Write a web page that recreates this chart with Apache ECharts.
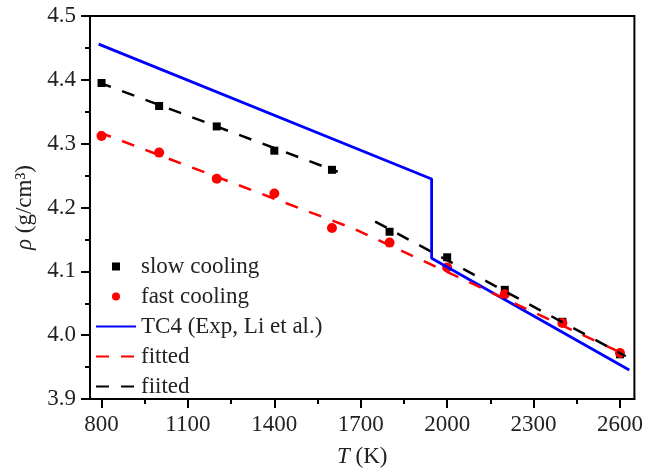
<!DOCTYPE html>
<html>
<head>
<meta charset="utf-8">
<script src="https://cdn.jsdelivr.net/npm/echarts@6/dist/echarts.min.js"></script>
<style>html,body{margin:0;padding:0;background:#fff}#c{width:646px;height:473px}</style>
</head>
<body>
<div id="c"></div>
<script>
// measured temperatures (K)
var temps = [800, 1000, 1200, 1400, 1600, 1800, 2000, 2200, 2400, 2600];
// densities (g/cm3)
var slowCooling = [4.395, 4.359, 4.327, 4.289, 4.259, 4.162, 4.122, 4.071, 4.021, 3.970];
var fastCooling = [4.312, 4.286, 4.245, 4.222, 4.168, 4.145, 4.106, 4.064, 4.019, 3.972];
// TC4 experimental line (Li et al.)
var tc4T = [790, 1946, 1946, 2632];
var tc4Rho = [4.456, 4.2446, 4.1204, 3.9454];
// fitted lines
var fitRedT = [790, 1680, 2620];
var fitRedRho = [4.318, 4.166, 3.969];
var fitBlackSolidT = [790, 1620];
var fitBlackSolidRho = [4.396, 4.256];
var fitBlackLiquidT = [1750, 2620];
var fitBlackLiquidRho = [4.178, 3.967];
// axis ticks
var xMajorTicks = [800, 1100, 1400, 1700, 2000, 2300, 2600];
var xMinorTicks = [950, 1250, 1550, 1850, 2150, 2450];

function pairs(xs, ys) { return xs.map(function (x, i) { return [x, ys[i]]; }); }

var FONT = '"Liberation Serif", "Times New Roman", serif';
var TXT = '#222';
var HIDE = {color: 'rgba(0,0,0,0)', borderWidth: 0, borderColor: 'rgba(0,0,0,0)'};
var chart = echarts.init(document.getElementById('c'), null, {renderer: 'canvas'});
chart.setOption({
  animation: false,
  backgroundColor: '#fff',
  grid: {left: 90, right: 9, top: 16, bottom: 74, show: true, borderColor: '#000', borderWidth: 2, backgroundColor: 'transparent'},
  legend: {
    orient: 'vertical', left: 90, top: 250,
    itemWidth: 40, itemHeight: 8, itemGap: 7,
    textStyle: {fontFamily: FONT, fontSize: 23, color: TXT},
    data: [
      {name: 'slow cooling', icon: 'path://M0 0H10V10H0Z'},
      {name: 'fast cooling', icon: 'circle'},
      {name: 'TC4 (Exp, Li et al.)', itemStyle: HIDE},
      {name: 'fitted', itemStyle: HIDE},
      {name: 'fiited', itemStyle: HIDE}
    ]
  },
  xAxis: [{
    type: 'value', min: 760, max: 2650,
    name: '{i|T} (K)', nameLocation: 'middle', nameGap: 46,
    nameTextStyle: {fontFamily: FONT, fontSize: 23, color: TXT, rich: {i: {fontFamily: FONT, fontSize: 23, fontStyle: 'italic', color: TXT}}},
    axisLine: {lineStyle: {color: '#000', width: 2}},
    axisTick: {show: true, length: 9, lineStyle: {color: '#000', width: 2}, customValues: xMajorTicks},
    axisLabel: {fontFamily: FONT, fontSize: 23, color: TXT, margin: 14, customValues: xMajorTicks, formatter: function (v) { return String(v); }},
    splitLine: {show: false}
  }, {
    type: 'value', min: 760, max: 2650, position: 'bottom',
    axisLine: {show: false},
    axisTick: {show: true, length: 5, lineStyle: {color: '#000', width: 2}, customValues: xMinorTicks},
    axisLabel: {show: false, customValues: xMinorTicks},
    splitLine: {show: false}
  }],
  yAxis: {
    type: 'value', min: 3.9, max: 4.5, interval: 0.1,
    name: '{i|ρ} (g/cm³)', nameLocation: 'middle', nameGap: 50,
    nameTextStyle: {fontFamily: FONT, fontSize: 23, color: TXT, rich: {i: {fontFamily: FONT, fontSize: 23, fontStyle: 'italic', color: TXT}}},
    axisLine: {show: true, lineStyle: {color: '#000', width: 2}},
    axisTick: {show: true, length: 9, lineStyle: {color: '#000', width: 2}},
    minorTick: {show: true, splitNumber: 2, length: 5, lineStyle: {color: '#000', width: 2}},
    axisLabel: {fontFamily: FONT, fontSize: 23, color: TXT, margin: 14, formatter: function (v) { return v.toFixed(1); }},
    splitLine: {show: false}
  },
  series: [
    {name: 'slow cooling', type: 'scatter', symbol: 'rect', symbolSize: 8, itemStyle: {color: '#000', opacity: 1}, data: pairs(temps, slowCooling), z: 3},
    {name: 'fast cooling', type: 'scatter', symbol: 'circle', symbolSize: 10, itemStyle: {color: '#ff0000', opacity: 1}, data: pairs(temps, fastCooling), z: 3},
    {name: 'TC4 (Exp, Li et al.)', type: 'line', symbol: 'none', lineStyle: {color: '#0000ff', width: 2.8}, itemStyle: {color: '#0000ff'}, data: pairs(tc4T, tc4Rho), z: 4},
    {name: 'fitted', type: 'line', symbol: 'none', lineStyle: {color: '#ff0000', width: 2.5, type: [13, 12]}, itemStyle: {color: '#ff0000'}, data: pairs(fitRedT, fitRedRho), z: 5},
    {name: 'fiited', type: 'line', symbol: 'none', lineStyle: {color: '#000', width: 2.5, type: [13, 12]}, itemStyle: {color: '#000'}, data: pairs(fitBlackSolidT, fitBlackSolidRho), z: 5},
    {name: 'fiited', type: 'line', symbol: 'none', lineStyle: {color: '#000', width: 2.5, type: [13, 12]}, itemStyle: {color: '#000'}, data: pairs(fitBlackLiquidT, fitBlackLiquidRho), z: 5}
  ]
});
</script>
</body>
</html>
